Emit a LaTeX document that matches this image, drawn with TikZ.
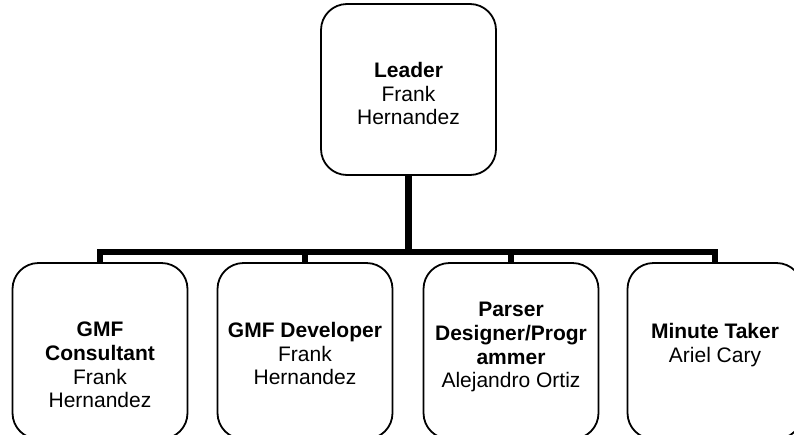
\documentclass[tikz,border=0pt]{standalone}
\usepackage{fontspec}
\setmainfont{Liberation Sans}
\begin{document}
\begin{tikzpicture}[x=1pt,y=-1pt,
  role/.style={draw=black, line width=1.8pt, rounded corners=26pt,
    minimum width=175pt, inner sep=0pt, fill=white},
  lbl/.style={anchor=north, align=center, inner sep=0pt,
    font=\fontsize{21}{23.7}\selectfont},
  link/.style={line width=6.6pt}]
\useasboundingbox (0,0) rectangle (794,434);
\clip (0,0) rectangle (794,434);
\fill[white] (0,0) rectangle (794,434);

% boxes
\node[role, minimum height=171pt] (leader) at (408.5,89.5) {};
\node[role, minimum height=176pt] (g1) at (100,351) {};
\node[role, minimum height=176pt] (g2) at (305,351) {};
\node[role, minimum height=176pt] (g3) at (511,351) {};
\node[role, minimum height=176pt] (g4) at (715,351) {};

% labels
\node[lbl] (tleader) at (408.5,62) {\textbf{Leader}\\Frank\\Hernandez};
\node[lbl] (t1) at (100,322) {\textbf{GMF}\\\textbf{Consultant}\\Frank\\Hernandez};
\node[lbl] (t2) at (305,322) {\textbf{GMF Developer}\\Frank\\Hernandez};
\node[lbl] (t3) at (511,302) {\textbf{Parser}\\\textbf{Designer/Progr}\\\textbf{ammer}\\Alejandro Ortiz};
\node[lbl] (t4) at (715,323) {\textbf{Minute Taker}\\Ariel Cary};

% connectors
\coordinate (bus) at (0,252);
\draw[link] (leader.south) -- (leader.south |- bus);
\draw[link] (g1.north) -- (g1.north |- bus) -| (g4.north);
\draw[link] (g2.north) -- (g2.north |- bus);
\draw[link] (g3.north) -- (g3.north |- bus);
\end{tikzpicture}
\end{document}
